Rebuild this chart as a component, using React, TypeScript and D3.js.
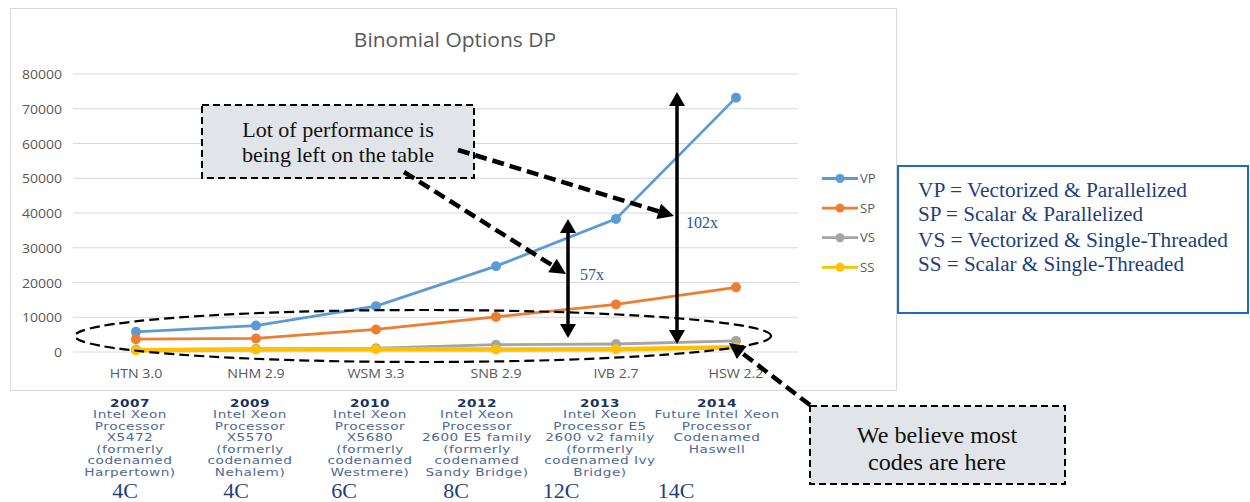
import React from "react";
import * as d3 from "d3";

const categories = ["HTN 3.0", "NHM 2.9", "WSM 3.3", "SNB 2.9", "IVB 2.7", "HSW 2.2"];
const vpValues = [5800, 7600, 13200, 24700, 38300, 73200];
const spValues = [3700, 3900, 6500, 10100, 13700, 18600];
const vsValues = [700, 900, 1100, 2100, 2300, 3200];
const ssValues = [500, 700, 800, 700, 800, 1400];
const yTicks = [0, 10000, 20000, 30000, 40000, 50000, 60000, 70000, 80000];
const seriesNames = ["VP", "SP", "VS", "SS"];
const seriesColors = ["#5b9bd5", "#ed7d31", "#a5a5a5", "#ffc000"];
const procLabels = [
  ["2007", "Intel Xeon", "Processor", "X5472", "(formerly", "codenamed", "Harpertown)"],
  ["2009", "Intel Xeon", "Processor", "X5570", "(formerly", "codenamed", "Nehalem)"],
  ["2010", "Intel Xeon", "Processor", "X5680", "(formerly", "codenamed", "Westmere)"],
  ["2012", "Intel Xeon", "Processor", "2600 E5 family", "(formerly", "codenamed", "Sandy Bridge)"],
  ["2013", "Intel Xeon", "Processor E5", "2600  v2 family", "(formerly", "codenamed Ivy", "Bridge)"],
  ["2014", "Future Intel Xeon", "Processor", "Codenamed", "Haswell"],
];
const coreLabels = ["4C", "4C", "6C", "8C", "12C", "14C"];
const legendText = [
  "VP = Vectorized & Parallelized",
  "SP = Scalar & Parallelized",
  "VS = Vectorized & Single-Threaded",
  "SS = Scalar & Single-Threaded",
];

// layout
const procX = [130, 250, 370, 477, 600, 717];
const coreX = [125, 236, 344, 456, 561, 676];
const legendTextY = [197, 221, 247, 271];
const legendTextW = [269, 225, 310, 266];

const serif = "'Liberation Serif', 'Times New Roman', serif";
const sans = "'Open Sans', 'Noto Sans', sans-serif";
const navy = "#1f3f7a";

function dashedArrow(x1: number, y1: number, x2: number, y2: number, key: string) {
  const ang = Math.atan2(y2 - y1, x2 - x1);
  const L = 16, W = 8;
  const bx = x2 - L * Math.cos(ang), by = y2 - L * Math.sin(ang);
  const px = -Math.sin(ang), py = Math.cos(ang);
  const pts = [
    [x2, y2],
    [bx + px * W, by + py * W],
    [bx - px * W, by - py * W],
  ];
  return (
    <g key={key}>
      <line x1={x1} y1={y1} x2={bx} y2={by} stroke="#000" strokeWidth={4.5} strokeDasharray="12 6" />
      <polygon points={pts.map((p) => p.join(",")).join(" ")} fill="#000" />
    </g>
  );
}

function doubleArrow(x: number, y1: number, y2: number, key: string) {
  const L = 14, W = 8;
  return (
    <g key={key}>
      <line x1={x} y1={y1 + L - 2} x2={x} y2={y2 - L + 2} stroke="#000" strokeWidth={3.5} />
      <polygon points={`${x},${y1} ${x - W},${y1 + L} ${x + W},${y1 + L}`} fill="#000" />
      <polygon points={`${x},${y2} ${x - W},${y2 - L} ${x + W},${y2 - L}`} fill="#000" />
    </g>
  );
}

// text stretched horizontally about its anchor
function SText(props: {
  x: number; y: number; sx: number; size: number; anchor?: string; fill: string; family: string; children: React.ReactNode;
}) {
  const { x, y, sx, size, anchor, fill, family, children } = props;
  return (
    <g transform={`translate(${x},${y}) scale(${sx},1)`}>
      <text x={0} y={0} textAnchor={anchor || "start"} fontFamily={family} fontSize={size} fill={fill}>
        {children}
      </text>
    </g>
  );
}

export default function App() {
  const x = d3.scaleBand<string>().domain(categories).range([76, 796]);
  const y = d3.scaleLinear().domain([0, 80000]).range([352, 74]);
  const cx = (c: string) => (x(c) as number) + x.bandwidth() / 2;
  const allSeries = [vpValues, spValues, vsValues, ssValues];
  const line = d3
    .line<number>()
    .x((_, i) => cx(categories[i]))
    .y((d) => y(d));
  const legY = (i: number) => 178.5 + i * 29.6;

  return (
    <div style={{ position: "absolute", left: 0, top: 0 }}>
      <svg width={1250} height={502} style={{ display: "block", background: "#fff" }}>
        {/* chart frame */}
        <rect x={10.5} y={8.5} width={886} height={382} fill="#fff" stroke="#d9d9d9" strokeWidth={1} />
        <SText x={455} y={47} sx={1.05} size={20} anchor="middle" family={sans} fill="#595959">
          Binomial Options DP
        </SText>
        {yTicks.map((t) => (
          <g key={t}>
            <line x1={73} x2={798} y1={y(t)} y2={y(t)} stroke="#d9d9d9" strokeWidth={1} />
            <SText x={62} y={y(t) + 5} sx={1.08} size={13} anchor="end" family={sans} fill="#595959">
              {t}
            </SText>
          </g>
        ))}
        {categories.map((c) => (
          <SText key={c} x={cx(c)} y={378} sx={1.05} size={13.5} anchor="middle" family={sans} fill="#595959">
            {c}
          </SText>
        ))}
        {allSeries.map((s, si) => (
          <g key={si}>
            <path d={line(s) as string} fill="none" stroke={seriesColors[si]} strokeWidth={si === 3 ? 4.5 : 2.8} />
            {s.map((v, i) => (
              <circle key={i} cx={cx(categories[i])} cy={y(v)} r={5} fill={seriesColors[si]} />
            ))}
          </g>
        ))}
        {/* chart legend */}
        {seriesNames.map((n, i) => (
          <g key={n}>
            <line x1={822} x2={858} y1={legY(i)} y2={legY(i)} stroke={seriesColors[i]} strokeWidth={2.8} />
            <circle cx={840} cy={legY(i)} r={4.5} fill={seriesColors[i]} />
            <text x={860} y={legY(i) + 4.5} fontFamily={sans} fontSize={13} fill="#595959">
              {n}
            </text>
          </g>
        ))}

        {/* ellipse */}
        <ellipse cx={423} cy={336} rx={348} ry={26} fill="none" stroke="#000" strokeWidth={2.2} strokeDasharray="10 5" />

        {/* annotation box 1 */}
        <rect x={202} y={105} width={272} height={73} fill="#e1e4e8" stroke="#000" strokeWidth={2} strokeDasharray="7 4" />
        <SText x={338} y={137} sx={1.05} size={21} anchor="middle" family={serif} fill="#111">
          Lot of performance is
        </SText>
        <SText x={338} y={162} sx={1.05} size={21} anchor="middle" family={serif} fill="#111">
          being left on the table
        </SText>

        {/* annotation box 2 */}
        <rect x={810} y={406} width={255} height={78} fill="#e1e4e8" stroke="#000" strokeWidth={2} strokeDasharray="7 4" />
        <SText x={937} y={443} sx={1.05} size={23} anchor="middle" family={serif} fill="#111">
          We believe most
        </SText>
        <SText x={937} y={470} sx={1.05} size={23} anchor="middle" family={serif} fill="#111">
          codes are here
        </SText>

        {/* dashed arrows */}
        {dashedArrow(458, 150, 674, 216, "a1")}
        {dashedArrow(404, 172, 566, 274, "a2")}
        {dashedArrow(810, 405, 729, 343, "a3")}

        {/* double arrows */}
        {doubleArrow(568, 219, 338, "d1")}
        {doubleArrow(677, 92, 344, "d2")}
        <text x={580} y={280} fontFamily={serif} fontSize={16} fill="#2a5590">57x</text>
        <text x={686} y={228} fontFamily={serif} fontSize={16} fill="#2a5590">102x</text>

        {/* definitions box */}
        <rect x={898} y={166} width={350} height={147} fill="#fff" stroke="#1b6cc4" strokeWidth={2} />
        {legendText.map((t, i) => (
          <text
            key={i}
            x={918}
            y={legendTextY[i]}
            fontFamily={serif}
            fontSize={20}
            fill={navy}
            textLength={legendTextW[i]}
            lengthAdjust="spacingAndGlyphs"
          >
            {t}
          </text>
        ))}

        {/* processor labels */}
        {procLabels.map((lines, ci) => (
          <g key={ci} transform={`translate(${procX[ci]},0) scale(1.3,1)`}>
            <text textAnchor="middle" fontFamily="'DejaVu Sans', sans-serif" fontSize={10.5} letterSpacing={0.4}>
              {lines.map((l, li) => (
                <tspan
                  key={li}
                  x={0}
                  y={407 + li * 11.5}
                  fontWeight={li === 0 ? "bold" : "normal"}
                  fill={li === 0 ? "#1c335e" : "#4d6a95"}
                >
                  {l}
                </tspan>
              ))}
            </text>
          </g>
        ))}
        {coreLabels.map((c, i) => (
          <SText key={i} x={coreX[i]} y={498} sx={1.1} size={20} anchor="middle" family={serif} fill={navy}>
            {c}
          </SText>
        ))}
      </svg>
    </div>
  );
}
